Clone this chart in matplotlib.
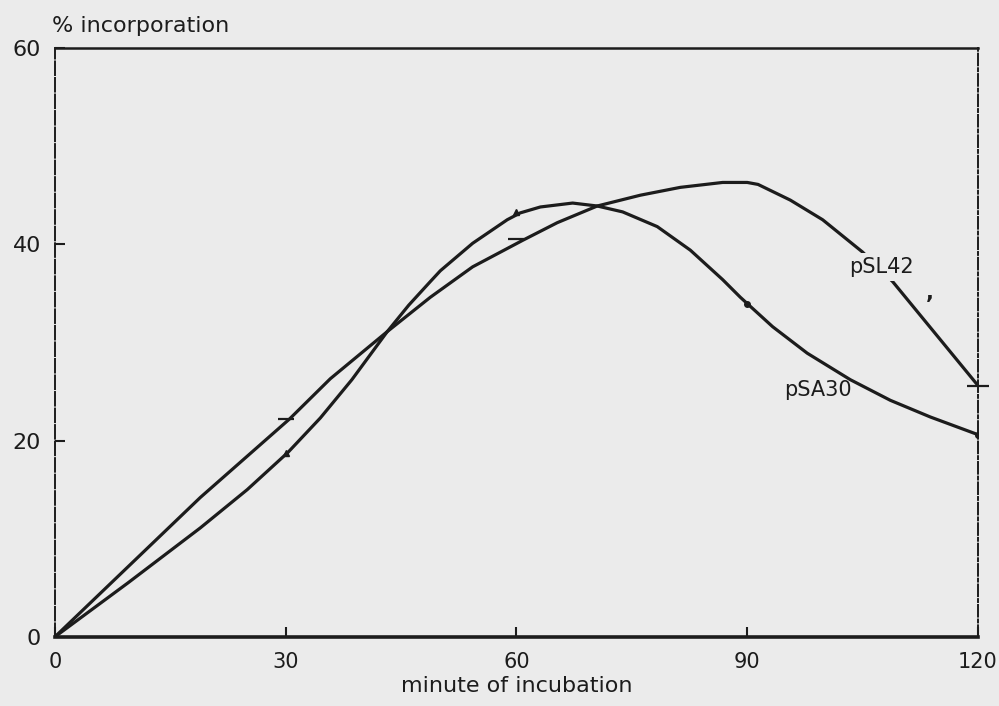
import numpy as np
import matplotlib
matplotlib.use("Agg")
import matplotlib.pyplot as plt

plt.rcParams['font.family'] = ['DejaVu Sans']

# traced curve of each plasmid (minutes, % incorporation)
sa30_min = [0, 9.5, 18.9, 25, 30.3, 34.5, 38.6, 43.2, 46, 48.8, 50.1, 54.3, 58.8, 60.5, 63.1, 67.3,
            70.5, 73.8, 78.3, 82.6, 86.8, 89.1, 93.3, 97.8, 103.4, 108.6, 113.8, 120]
sa30_pct = [0, 5.5, 11.1, 15.0, 18.8, 22.3, 26.2, 31.1, 33.8, 36.2, 37.3, 40.1, 42.5, 43.2, 43.8, 44.2,
            43.9, 43.3, 41.8, 39.4, 36.4, 34.6, 31.6, 28.9, 26.2, 24.1, 22.4, 20.6]

sl42_min = [0, 18.9, 30.5, 35.8, 43.2, 48.8, 54.3, 60.8, 65.3, 70.5, 76.1, 81.3, 86.8, 90, 91.4,
            95.6, 99.8, 105.0, 108.9, 120]
sl42_pct = [0, 14.2, 22.2, 26.3, 31.1, 34.6, 37.7, 40.4, 42.2, 43.9, 45.0, 45.8, 46.3, 46.3, 46.1,
            44.5, 42.5, 39.2, 36.2, 25.6]

# measured points
pt_min = [30, 60, 90, 120]
sa30_pts = [18.7, 43.3, 33.9, 20.6]
sl42_pts = [22.2, 40.5, 46.3, 25.6]

x_ticks = [0, 30, 60, 90, 120]
y_ticks = [0, 20, 40, 60]

ink = '#1c1c1c'
paper = '#ebebeb'

fig = plt.figure(figsize=(9.99, 7.06), dpi=100, facecolor=paper)
ax = fig.add_axes([0.055, 0.098, 0.924, 0.834])
ax.set_facecolor(paper)

ax.plot(sa30_min, sa30_pct, color=ink, lw=2.3, solid_joinstyle='round', solid_capstyle='round')
ax.plot(sl42_min, sl42_pct, color=ink, lw=2.3, solid_joinstyle='round', solid_capstyle='round')
ax.plot(pt_min[:2], sa30_pts[:2], ls='none', marker='^', ms=5, color=ink)
ax.plot(pt_min[2:], sa30_pts[2:], ls='none', marker='o', ms=4, color=ink)
ax.plot(pt_min[:2], sl42_pts[:2], ls='none', marker='_', ms=11, mew=1.6, color=ink)
ax.plot(pt_min[3:], sl42_pts[3:], ls='none', marker='_', ms=16, mew=1.6, color=ink, clip_on=False)

ax.text(107.4, 37.7, 'pSL42', fontsize=15, ha='center', va='center', color=ink,
        bbox=dict(facecolor=paper, edgecolor='none', pad=3))
ax.text(99.2, 25.2, 'pSA30', fontsize=15, ha='center', va='center', color=ink)
ax.text(113.7, 35.0, ',', fontsize=15, ha='center', va='center', color=ink, fontweight='bold')

ax.set_xlim(0, 120)
ax.set_ylim(0, 60)
ax.set_xticks(x_ticks)
ax.set_yticks(y_ticks)
ax.set_xticklabels([str(v) for v in x_ticks], fontsize=15)
ax.set_yticklabels([str(v) for v in y_ticks], fontsize=16)
ax.tick_params(axis='both', direction='in', length=7, width=1.5, color=ink, labelcolor=ink)
ax.tick_params(axis='x', pad=11)
ax.tick_params(axis='y', pad=10)

ax.spines['left'].set_linestyle((0, (7, 1.5)))
ax.spines['right'].set_linestyle((0, (6, 1.5, 1.5, 1.5)))
for side in ['left', 'right']:
    ax.spines[side].set_linewidth(1.4)
ax.spines['top'].set_linewidth(1.8)
ax.spines['bottom'].set_linewidth(2.6)
for s in ax.spines.values():
    s.set_color(ink)

ax.set_xlabel('minute of incubation', fontsize=16, color=ink, labelpad=3)
fig.text(0.052, 0.963, '% incorporation', fontsize=16, color=ink, ha='left', va='center')

fig.savefig('out.png', dpi=100, facecolor=paper)
